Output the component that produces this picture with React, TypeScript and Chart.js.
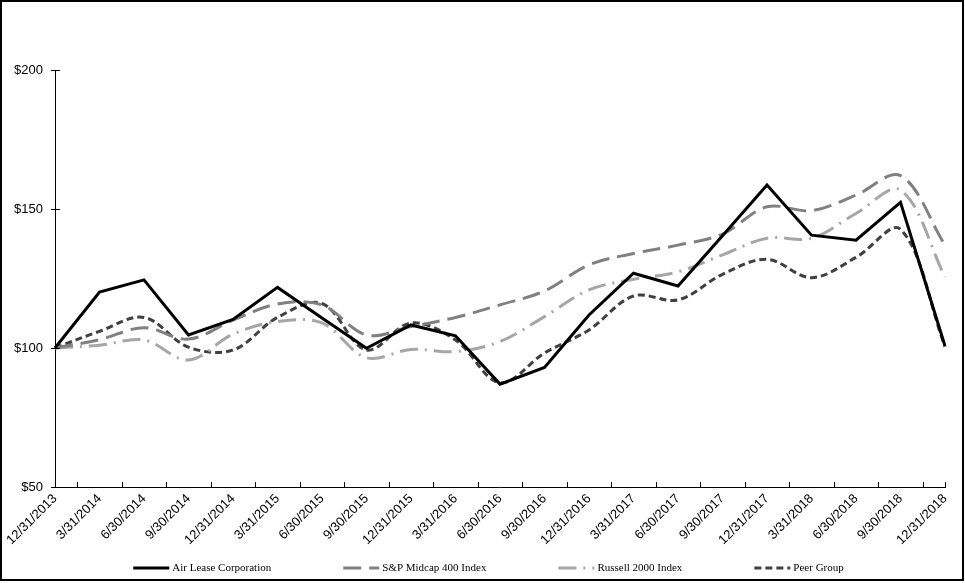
import React, { useEffect, useRef } from "react";
import { Chart, registerables } from "chart.js";

Chart.register(...registerables);

const categories = [
  "12/31/2013", "3/31/2014", "6/30/2014", "9/30/2014", "12/31/2014",
  "3/31/2015", "6/30/2015", "9/30/2015", "12/31/2015", "3/31/2016",
  "6/30/2016", "9/30/2016", "12/31/2016", "3/31/2017", "6/30/2017",
  "9/30/2017", "12/31/2017", "3/31/2018", "6/30/2018", "9/30/2018",
  "12/31/2018",
];

const airLease = [100, 120.1, 124.5, 104.7, 110.3, 121.8, 110.8, 99.9, 108.3, 104.4, 87.0, 93.0, 111.9, 126.9, 122.3, 140.4, 158.6, 140.6, 138.8, 152.4, 100.7];
const spMidcap = [100, 103, 107.3, 103.2, 110, 115.8, 115.5, 104.7, 107.7, 111, 115.5, 120.5, 129.9, 134, 137, 141, 150.8, 149.4, 155, 162, 137];
const russell = [100, 101, 102.9, 95.7, 105, 109.5, 109, 96.5, 99.5, 98.7, 102.3, 111.3, 120.9, 124.7, 127.4, 133.5, 139.5, 139.5, 148.4, 156.8, 125.6];
const peerGroup = [100, 106, 111, 100.3, 99.3, 111, 116, 99.3, 109, 102.9, 87.5, 98.2, 106.5, 118.7, 117.3, 126.5, 131.9, 125.3, 132.6, 142.7, 100.5];

const yTicks = [50, 100, 150, 200];

const axisTicksPlugin = {
  id: "axisTicks",
  afterDraw(chart: any) {
    const ctx = chart.ctx;
    const xs = chart.scales.x;
    const ys = chart.scales.y;
    const area = chart.chartArea;
    ctx.save();
    ctx.strokeStyle = "#000";
    ctx.lineWidth = 1;
    ctx.beginPath();
    const n = categories.length;
    for (let i = 0; i < n - 1; i++) {
      const px = Math.round((xs.getPixelForValue(i) + xs.getPixelForValue(i + 1)) / 2) + 0.5;
      ctx.moveTo(px, area.bottom);
      ctx.lineTo(px, area.bottom - 5);
    }
    const lastX = Math.round(xs.getPixelForValue(n - 1)) + 0.5;
    ctx.moveTo(lastX, area.bottom);
    ctx.lineTo(lastX, area.bottom - 5);
    yTicks.forEach((v) => {
      const py = Math.round(ys.getPixelForValue(v)) + 0.5;
      ctx.moveTo(area.left - 4, py);
      ctx.lineTo(area.left + 5, py);
    });
    ctx.stroke();
    ctx.restore();
  },
};

const legendPlugin = {
  id: "customLegend",
  afterDraw(chart: any) {
    const ctx = chart.ctx;
    const ds = chart.data.datasets;
    ctx.save();
    ctx.font = '11px "Liberation Serif", "Times New Roman", serif';
    ctx.textBaseline = "middle";
    ctx.textAlign = "left";
    const sample = 36;
    const textGap = 3;
    const itemGap = 72;
    const widths = ds.map((d: any) => sample + textGap + ctx.measureText(d.label).width);
    const total = widths.reduce((a: number, b: number) => a + b, 0) + itemGap * (ds.length - 1);
    let x = chart.width / 2 + 6 - total / 2;
    const y = 568;
    ds.forEach((d: any, i: number) => {
      ctx.beginPath();
      ctx.strokeStyle = d.borderColor;
      ctx.lineWidth = d.borderWidth;
      ctx.setLineDash(d.borderDash || []);
      ctx.moveTo(x, y);
      ctx.lineTo(x + sample, y);
      ctx.stroke();
      ctx.setLineDash([]);
      ctx.fillStyle = "#000";
      ctx.fillText(d.label, x + sample + textGap, y);
      x += widths[i] + itemGap;
    });
    ctx.restore();
  },
};

export default function App() {
  const ref = useRef<HTMLCanvasElement>(null);

  useEffect(() => {
    if (!ref.current) return;
    const tickFont = { family: '"Liberation Sans", Arial, sans-serif', size: 13 };
    const chart = new Chart(ref.current, {
      type: "line",
      data: {
        labels: categories,
        datasets: [
          {
            label: "Air Lease Corporation",
            data: airLease,
            borderColor: "#000000",
            borderWidth: 3,
            tension: 0,
            pointRadius: 0,
            borderDash: [],
          },
          {
            label: "S&P Midcap 400 Index",
            data: spMidcap,
            borderColor: "#808080",
            borderWidth: 3,
            tension: 0.35,
            pointRadius: 0,
            borderDash: [18, 8],
          },
          {
            label: "Russell 2000 Index",
            data: russell,
            borderColor: "#a6a6a6",
            borderWidth: 3,
            tension: 0.35,
            pointRadius: 0,
            borderDash: [18, 7, 2, 7],
          },
          {
            label: "Peer Group",
            data: peerGroup,
            borderColor: "#404040",
            borderWidth: 3,
            tension: 0.35,
            pointRadius: 0,
            borderDash: [7, 4],
          },
        ],
      },
      options: {
        responsive: false,
        animation: false,
        devicePixelRatio: 1,
        layout: { padding: { top: 70, right: 20, bottom: 36, left: 0 } },
        plugins: { legend: { display: false }, tooltip: { enabled: false } },
        scales: {
          x: {
            type: "category",
            offset: false,
            grid: { display: false, drawTicks: false },
            border: { display: true, color: "#000", width: 1 },
            ticks: {
              autoSkip: false,
              minRotation: 45,
              maxRotation: 45,
              padding: 4,
              color: "#000",
              font: tickFont,
            },
            afterFit: (s: any) => {
              s.height = 60;
            },
          },
          y: {
            min: 50,
            max: 200,
            grid: { display: false, drawTicks: false },
            border: { display: true, color: "#000", width: 1 },
            ticks: {
              stepSize: 50,
              padding: 12,
              color: "#000",
              font: tickFont,
              callback: (v: any) => "$" + v,
            },
            afterFit: (s: any) => {
              s.width = 55;
            },
          },
        },
      },
      plugins: [axisTicksPlugin, legendPlugin],
    });
    return () => chart.destroy();
  }, []);

  return (
    <div style={{ position: "fixed", left: 0, top: 0, width: 965, height: 583, background: "#fff" }}>
      <canvas ref={ref} width={965} height={583} style={{ position: "absolute", left: 0, top: 0 }} />
      <div
        style={{
          position: "absolute",
          left: 0,
          top: 0,
          width: 964,
          height: 581,
          boxSizing: "border-box",
          border: "2px solid #000",
          pointerEvents: "none",
        }}
      />
    </div>
  );
}
